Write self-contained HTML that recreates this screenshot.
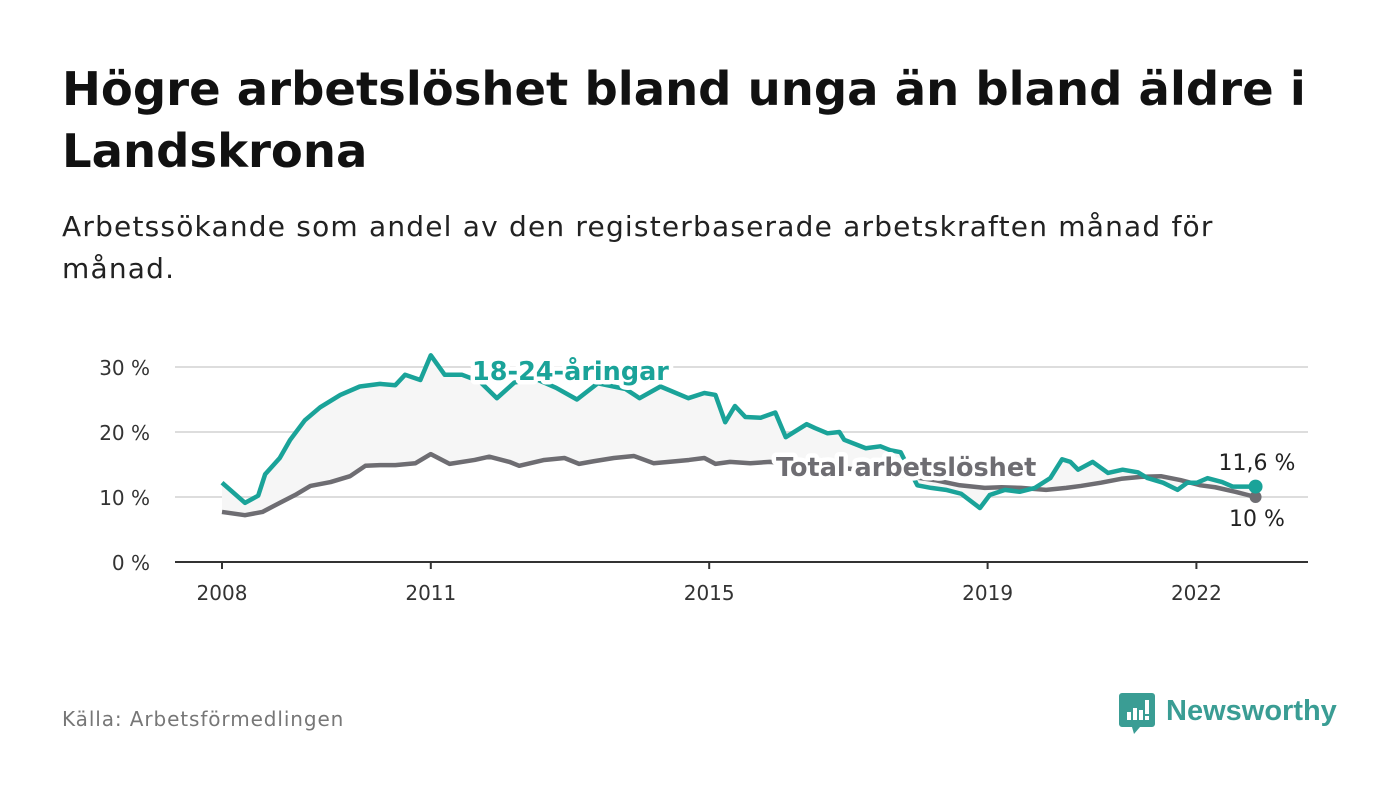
<!DOCTYPE html>
<html><head><meta charset="utf-8">
<style>
html,body{margin:0;padding:0;background:#fff;}
body{width:1400px;height:794px;position:relative;overflow:hidden;font-family:"DejaVu Sans","Liberation Sans",sans-serif;}
.t{position:absolute;margin:0;white-space:nowrap;}
#title{left:62px;top:58px;font-size:46.5px;font-weight:bold;color:#111;line-height:62px;}
#sub{left:62px;top:206px;font-size:28px;letter-spacing:1.2px;color:#222;line-height:42px;}
#src{left:62px;top:707px;font-size:20px;letter-spacing:0.9px;color:#777;}
#logo{left:1118px;top:690px;}
svg text{font-family:"DejaVu Sans","Liberation Sans",sans-serif;}
</style></head><body>
<div class="t" id="title">Högre arbetslöshet bland unga än bland äldre i<br>Landskrona</div>
<div class="t" id="sub">Arbetssökande som andel av den registerbaserade arbetskraften månad för<br>månad.</div>
<div class="t" id="src">Källa: Arbetsförmedlingen</div>
<div class="t" id="logo">
<svg width="230" height="48">
<path d="M2 3h30a3 3 0 0 1 3 3v28a3 3 0 0 1-3 3H20l-6 7-2-7H2a3 3 0 0 1-3-3V6a3 3 0 0 1 3-3z" fill="#3a9d94" transform="translate(2,0)"/>
<rect x="9" y="22" width="4" height="8" fill="#fff"/><rect x="15" y="18" width="4" height="12" fill="#fff"/><rect x="21" y="20" width="4" height="10" fill="#fff"/><rect x="27" y="10" width="4" height="14" fill="#fff"/><rect x="27" y="26" width="4" height="4" fill="#fff"/>
<text x="48" y="30" font-size="29" font-weight="bold" fill="#3a9d94" style="font-family:'Liberation Sans',sans-serif">Newsworthy</text>
</svg></div>
<svg id="chart" width="1400" height="794" style="position:absolute;left:0;top:0"></svg>
<script>
const yTicks=[0,10,20,30];
const yTickLabels=["0 %","10 %","20 %","30 %"];
const xTicks=[2008,2011,2015,2019,2022];
const youthDates=[2008,2008.33,2008.52,2008.62,2008.83,2008.98,2009.19,2009.41,2009.7,2009.98,2010.27,2010.49,2010.63,2010.85,2011.0,2011.2,2011.45,2011.7,2011.95,2012.2,2012.5,2012.8,2013.1,2013.4,2013.8,2014.0,2014.3,2014.7,2014.93,2015.09,2015.23,2015.37,2015.52,2015.74,2015.95,2016.1,2016.4,2016.52,2016.7,2016.87,2016.94,2017.25,2017.46,2017.6,2017.75,2017.99,2018.19,2018.4,2018.62,2018.89,2019.03,2019.25,2019.46,2019.68,2019.9,2020.07,2020.19,2020.3,2020.51,2020.73,2020.94,2021.16,2021.3,2021.52,2021.73,2021.87,2022.01,2022.16,2022.37,2022.52,2022.66,2022.85];
const youthValues=[12.2,9.1,10.2,13.5,16,18.8,21.8,23.8,25.7,27,27.4,27.2,28.8,28,31.8,28.8,28.8,27.8,25.2,27.6,28.2,26.8,25.0,27.5,26.6,25.2,27,25.2,26,25.7,21.5,24,22.3,22.2,23,19.2,21.2,20.6,19.8,20,18.8,17.5,17.8,17.2,16.9,11.8,11.4,11.1,10.5,8.3,10.3,11.1,10.8,11.4,12.9,15.8,15.4,14.2,15.4,13.7,14.2,13.8,12.9,12.2,11.1,12.2,12.2,12.9,12.3,11.6,11.6,11.6];
const totalDates=[2008,2008.33,2008.58,2008.83,2009.05,2009.27,2009.56,2009.84,2010.06,2010.27,2010.49,2010.78,2011.0,2011.27,2011.63,2011.84,2012.13,2012.27,2012.63,2012.92,2013.13,2013.34,2013.63,2013.92,2014.2,2014.42,2014.71,2014.93,2015.09,2015.3,2015.59,2015.87,2016.3,2016.9,2017.6,2018.24,2018.6,2018.96,2019.2,2019.48,2019.84,2020.13,2020.34,2020.63,2020.92,2021.2,2021.49,2021.77,2022.06,2022.27,2022.56,2022.85];
const totalValues=[7.7,7.2,7.7,9.1,10.3,11.7,12.3,13.2,14.8,14.9,14.9,15.2,16.6,15.1,15.7,16.2,15.4,14.8,15.7,16,15.1,15.5,16,16.3,15.2,15.4,15.7,16,15.1,15.4,15.2,15.4,15.0,14.5,13.6,12.6,11.8,11.4,11.5,11.4,11.1,11.4,11.7,12.2,12.8,13.1,13.2,12.6,11.8,11.5,10.8,10.0];
const NS="http://www.w3.org/2000/svg";
const svg=document.getElementById('chart');
const x0=175,x1=1308;
function xs(d){return 222+(d-2008)*69.6;}
function ys(v){return 562-v*6.5;}
function mk(tag,attrs){const e=document.createElementNS(NS,tag);for(const k in attrs)e.setAttribute(k,attrs[k]);svg.appendChild(e);return e;}
yTicks.forEach((t,i)=>{
 if(t>0){const g=mk('line',{x1:x0,x2:x1,y1:ys(t),y2:ys(t),stroke:'#ddd','stroke-width':2});
 
 }
 const l=mk('text',{x:150,y:ys(t)+8,'text-anchor':'end','font-size':20,fill:'#333'});
 l.textContent=yTickLabels[i];
 
 
});
const ax=mk('line',{x1:x0,x2:x1,y1:562,y2:562,stroke:'#333','stroke-width':2});


xTicks.forEach(t=>{
 const tk=mk('line',{x1:xs(t),x2:xs(t),y1:562,y2:569,stroke:'#333','stroke-width':2});
 
 
 const l=mk('text',{x:xs(t),y:600,'text-anchor':'middle','font-size':20,fill:'#333'});
 l.textContent=t;
 
 
});
let pts=youthDates.map((d,i)=>xs(d)+','+ys(youthValues[i]));
let back=totalDates.map((d,i)=>xs(d)+','+ys(totalValues[i])).reverse();
const area=mk('polygon',{points:pts.concat(back).join(' '),fill:'#f6f6f6'});


const tl=mk('polyline',{points:back.slice().reverse().join(' '),fill:'none',stroke:'#6e6d72','stroke-width':4.5,'stroke-linejoin':'round'});


const yl=mk('polyline',{points:pts.join(' '),fill:'none',stroke:'#1aa399','stroke-width':4.5,'stroke-linejoin':'round'});


const lx=xs(youthDates[youthDates.length-1]);
const d1=mk('circle',{cx:lx,cy:ys(totalValues[totalValues.length-1]),r:6,fill:'#6e6d72'});


const d2=mk('circle',{cx:lx,cy:ys(youthValues[youthValues.length-1]),r:7,fill:'#1aa399'});


function lab(txt,x,y,col,bold,name,anchor){
 const t=mk('text',{x:x,y:y,'font-size':bold?25.5:22,'font-weight':bold?'bold':'normal',fill:col,stroke:'#fff','stroke-width':bold?9:5,'paint-order':'stroke','stroke-linejoin':'round','text-anchor':anchor||'start'});
 t.textContent=txt;
 
 
}
lab('18-24-åringar',472,380,'#1aa399',true,'youth-series-label');
lab('Total arbetslöshet',776,476,'#6e6d72',true,'total-series-label');
lab('11,6 %',1257,470,'#222',false,'youth-end-value','middle');
lab('10 %',1257,526,'#222',false,'total-end-value','middle');
</script>
</body></html>
